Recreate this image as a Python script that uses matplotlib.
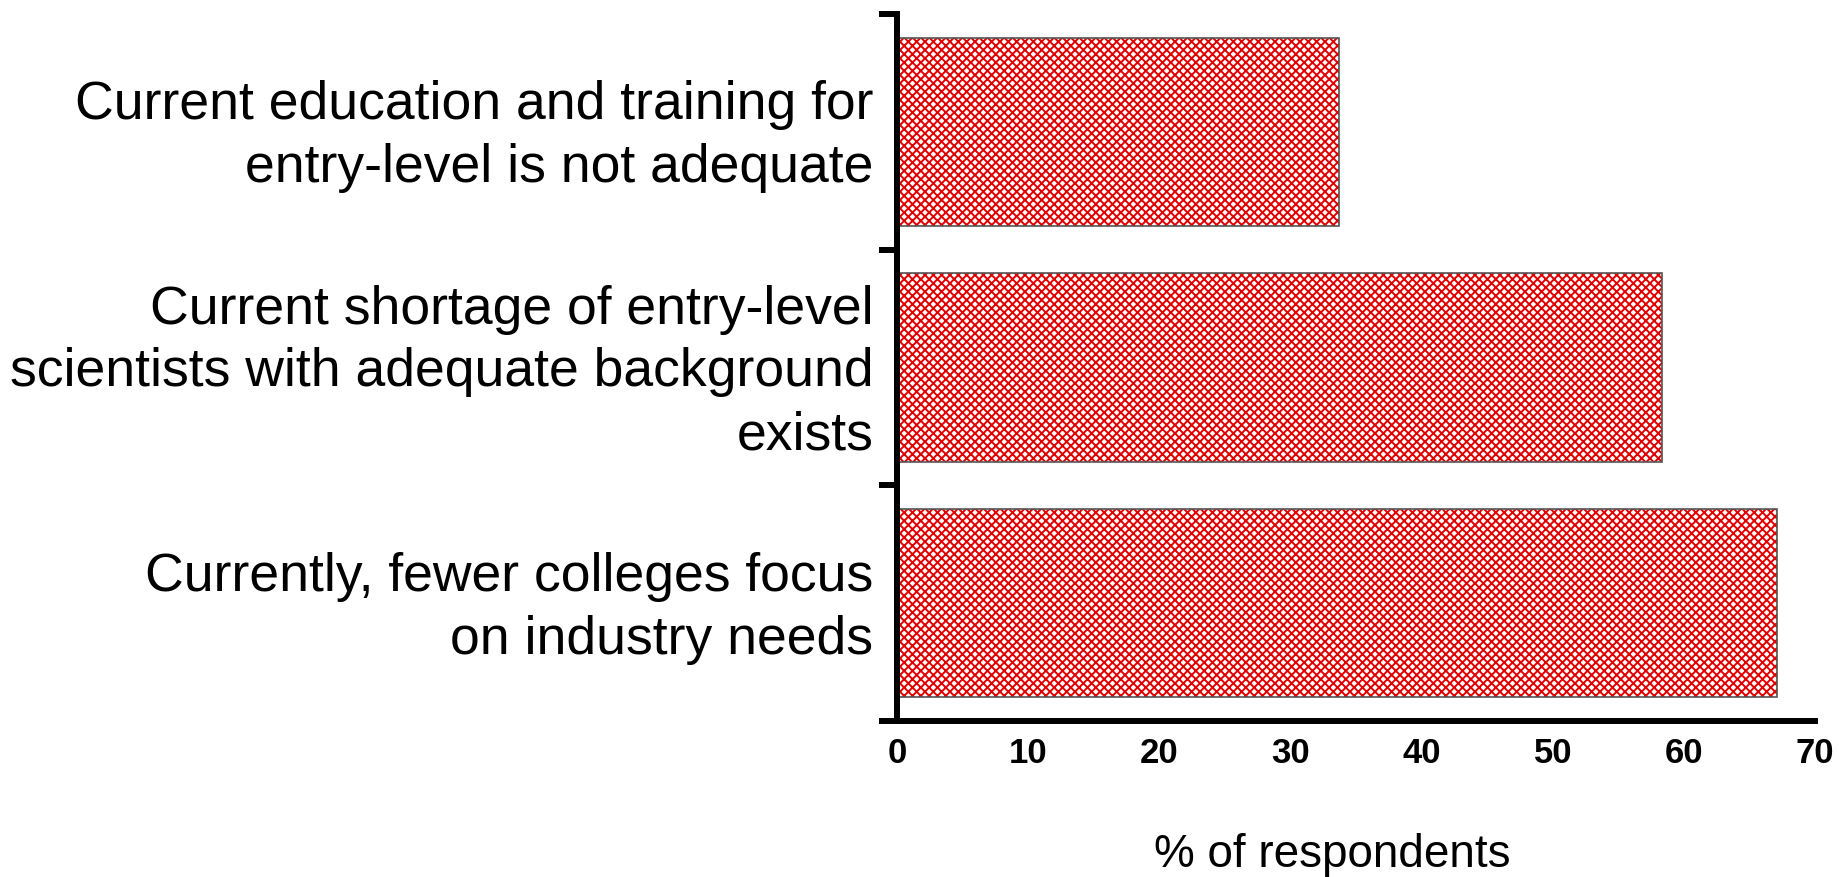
import numpy as np
import matplotlib
matplotlib.use("Agg")
import matplotlib.pyplot as plt
import matplotlib.transforms as mtrans

plt.rcParams['font.family'] = ['Liberation Sans', 'DejaVu Sans']
plt.rcParams['hatch.linewidth'] = 1.4

# Data (bottom to top)
labels = ["Currently, fewer colleges focus\non industry needs",
          "Current shortage of entry-level\nscientists with adequate background\nexists",
          "Current education and training for\nentry-level is not adequate"]
values = [67.1, 58.3, 33.7]
xticks = [0, 10, 20, 30, 40, 50, 60, 70]

fig = plt.figure(figsize=(18.39, 8.78), dpi=100)
ax = fig.add_axes([0.4878, 0.1777, 0.4992, 0.8052])

pos = np.arange(len(values))
# hatch in red, outline in grey
ax.barh(pos, values, height=0.8, color='white', edgecolor='#e00000',
        hatch='xxxx', linewidth=0)
ax.barh(pos, values, height=0.8, color='none', edgecolor='#555555', linewidth=1.2)

ax.set_xlim(0, 70)
ax.set_ylim(-0.5, 2.5)
ax.set_xticks(xticks)
ax.set_xticklabels([str(t) for t in xticks], fontsize=25, fontweight='bold')
ax.tick_params(axis='x', length=0, pad=11)

ax.set_yticks([-0.5, 0.5, 1.5, 2.5])
ax.set_yticklabels([])
ax.tick_params(axis='y', which='major', length=13, width=4.3, direction='out')
ax.set_yticks(pos, minor=True)
ax.set_yticklabels(labels, minor=True, fontsize=38.5, linespacing=1.33)
ax.tick_params(axis='y', which='minor', length=0, pad=17)
shift = mtrans.ScaledTranslation(0, 8 / 100, fig.dpi_scale_trans)
for t in ax.get_yticklabels(minor=True):
    t.set_transform(t.get_transform() + shift)

for s in ['top', 'right']:
    ax.spines[s].set_visible(False)
for s in ['left', 'bottom']:
    ax.spines[s].set_linewidth(4.3)

ax.set_xlabel('% of respondents', fontsize=33, va='baseline')
ax.xaxis.set_label_coords(0.474, -0.205)

fig.savefig('out.png', dpi=100)
